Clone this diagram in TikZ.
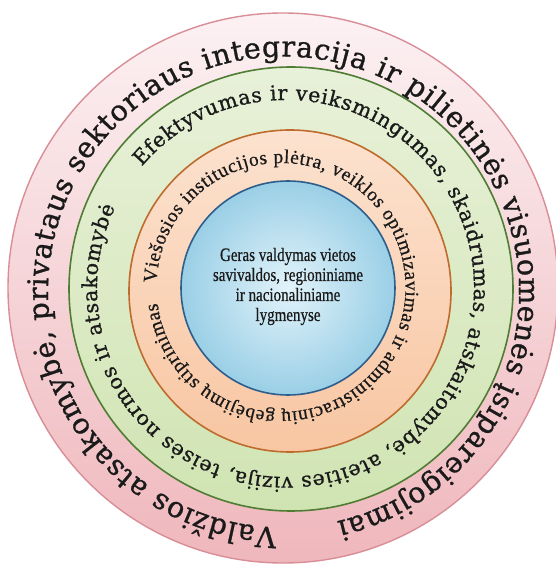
\documentclass[tikz,border=0pt]{standalone}
\usepackage{fontspec}
\setmainfont{Liberation Serif}
\newfontfamily\ringfont[FakeBold=0.9]{DejaVu Serif}
\newfontfamily\innerfont[FakeBold=0.6]{Liberation Serif}
\usepackage{graphicx}
\usetikzlibrary{decorations.text,calc}
\definecolor{pinkTop}{HTML}{FCF1F3}
\definecolor{pinkBot}{HTML}{EFB7BC}
\definecolor{pinkEdge}{HTML}{D98E97}
\definecolor{greenTop}{HTML}{E8F1D9}
\definecolor{greenBot}{HTML}{D0E4B2}
\definecolor{greenEdge}{HTML}{4F7D34}
\definecolor{orangeTop}{HTML}{FCE2CF}
\definecolor{orangeBot}{HTML}{F8C6A2}
\definecolor{orangeEdge}{HTML}{BE6B2E}
\definecolor{blueIn}{HTML}{E2F3FA}
\definecolor{blueOut}{HTML}{9ACFE6}
\definecolor{blueEdge}{HTML}{2E5E8C}
\definecolor{ink}{HTML}{1A1A1A}
\begin{document}
\begin{tikzpicture}[x=1pt,y=1pt,
  disk/.style={circle, inner sep=0pt, outer sep=0pt},
  ringpath/.style={decorate, decoration={text along path, text align={fit to path}, #1}}
]
\useasboundingbox (0,0) rectangle (555,568);
\fill[white] (0,0) rectangle (555,568);
% disks
\node[disk, minimum size=550pt, top color=pinkTop, bottom color=pinkBot, draw=pinkEdge, line width=1.4pt] (outerdisk) at (283,280) {};
\node[disk, minimum size=444pt, top color=greenTop, bottom color=greenBot, draw=greenEdge, line width=1.6pt] (greendisk) at (291,279) {};
\node[disk, minimum size=322pt, top color=orangeTop, bottom color=orangeBot, draw=orangeEdge, line width=1.6pt] (orangedisk) at (290,277) {};
\node[disk, minimum size=214pt, inner color=blueIn, outer color=blueOut, draw=blueEdge, line width=1.6pt] (bluedisk) at (288,280) {};
% text centres
\coordinate (oc) at (283.5,276);
\coordinate (gc) at (285.5,279.5);
\coordinate (rc) at (281,280.5);
% outer ring text
\path[ringpath={text={|\ringfont\fontsize{28.5}{30}\selectfont\color{ink}|Valdžios atsakomybė, privataus sektoriaus integracija ir pilietinės visuomenės įsipareigojimai}}]
  ($(oc)+(268.4:235.5pt)$) arc[start angle=268.4, end angle=-76.9, radius=235.5pt];
% green ring text
\path[ringpath={text={|\ringfont\fontsize{20.5}{22}\selectfont\color{ink}|Efektyvumas ir veiksmingumas, skaidrumas, atskaitomybė, ateities vizija, teisės normos ir atsakomybė}}]
  ($(gc)+(139.7:188.5pt)$) arc[start angle=139.7, end angle=-205.5, radius=188.5pt];
% orange ring text
\path[ringpath={text={|\innerfont\fontsize{19.5}{21}\selectfont\color{ink}|Viešosios institucijos plėtra, veiklos optimizavimas ir administracinių gebėjimų stiprinimas}}]
  ($(rc)+(177.9:124.5pt)$) arc[start angle=177.9, end angle=-172.8, radius=124.5pt];
% centre text
\node[text=ink, font=\innerfont\fontsize{19}{20}\selectfont, inner sep=0pt] (centertext) at (288,281)
  {\scalebox{0.79}[1]{\begin{tabular}{@{}c@{}}Geras valdymas vietos\\ savivaldos, regioniniame\\ ir nacionaliniame\\ lygmenyse\end{tabular}}};
\end{tikzpicture}
\end{document}
